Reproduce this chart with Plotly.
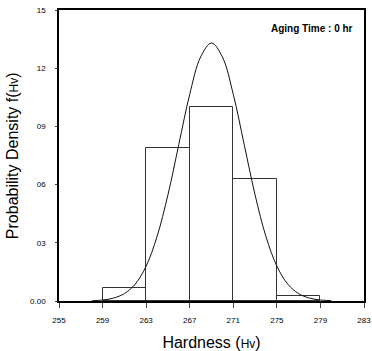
import plotly.graph_objects as go

# Histogram bins (Hv) and densities
bin_centers = [261, 265, 269, 273, 277]
bin_heights = [0.0067, 0.079, 0.100, 0.063, 0.0026]
bin_width = 4

# Fitted curve
curve_x = [258, 259, 260, 261, 262, 263, 264, 265, 266, 267, 268, 269,
           270, 271, 272, 273, 274, 275, 276, 277, 278, 279, 280]
curve_y = [0.0001, 0.0005, 0.0015, 0.0038, 0.0087, 0.0180, 0.0332, 0.0547,
           0.0807, 0.1065, 0.1258, 0.1330, 0.1258, 0.1065, 0.0807, 0.0547,
           0.0332, 0.0180, 0.0087, 0.0038, 0.0015, 0.0005, 0.0002]

x_ticks = [255, 259, 263, 267, 271, 275, 279, 283]
y_ticks = [0, 0.03, 0.06, 0.09, 0.12, 0.15]
y_ticktext = ["0.00", "03", "06", "09", "12", "15"]

fig = go.Figure()
fig.add_trace(go.Bar(
    x=bin_centers, y=bin_heights, width=[bin_width] * len(bin_centers),
    marker=dict(color="rgba(0,0,0,0)", line=dict(color="#333", width=1)),
    showlegend=False,
))
fig.add_trace(go.Scatter(
    x=curve_x, y=curve_y, mode="lines", line=dict(color="#111", width=1, shape="spline"),
    showlegend=False,
))

fig.add_annotation(text="<b>Aging Time : 0 hr</b>", x=0.97, y=0.935, xref="paper", yref="paper",
                   xanchor="right", yanchor="middle", showarrow=False,
                   font=dict(size=10, color="#000", family="Liberation Sans, Arial"))
fig.add_annotation(text="Probability Density f(<span style='font-size:12px'>Hv</span>)",
                   x=-0.152, y=0.5, xref="paper", yref="paper", textangle=-90,
                   xanchor="center", yanchor="middle", showarrow=False,
                   font=dict(size=16, color="#000", family="Liberation Sans, Arial"))

fig.update_layout(
    width=372, height=351,
    margin=dict(l=59, r=8, t=10, b=50),
    paper_bgcolor="white", plot_bgcolor="white",
    font=dict(family="Liberation Sans, Arial", color="#000"),
    bargap=0,
    xaxis=dict(range=[255, 283], tickvals=x_ticks, ticks="outside", ticklen=5,
               ticklabelstandoff=6, automargin=False,
               tickfont=dict(size=8), showgrid=False, zeroline=False,
               showline=True, linecolor="#000", linewidth=1.5, mirror=True,
               title=dict(text="Hardness (<span style='font-size:12px'>Hv</span>)",
                          font=dict(size=16))),
    yaxis=dict(range=[0, 0.15], tickvals=y_ticks, ticktext=y_ticktext, ticks="outside",
               ticklen=2, ticklabelstandoff=8, automargin=False,
               tickfont=dict(size=8), showgrid=False, zeroline=False,
               showline=True, linecolor="#000", linewidth=1.5, mirror=True),
)

fig.write_html("out.html")
